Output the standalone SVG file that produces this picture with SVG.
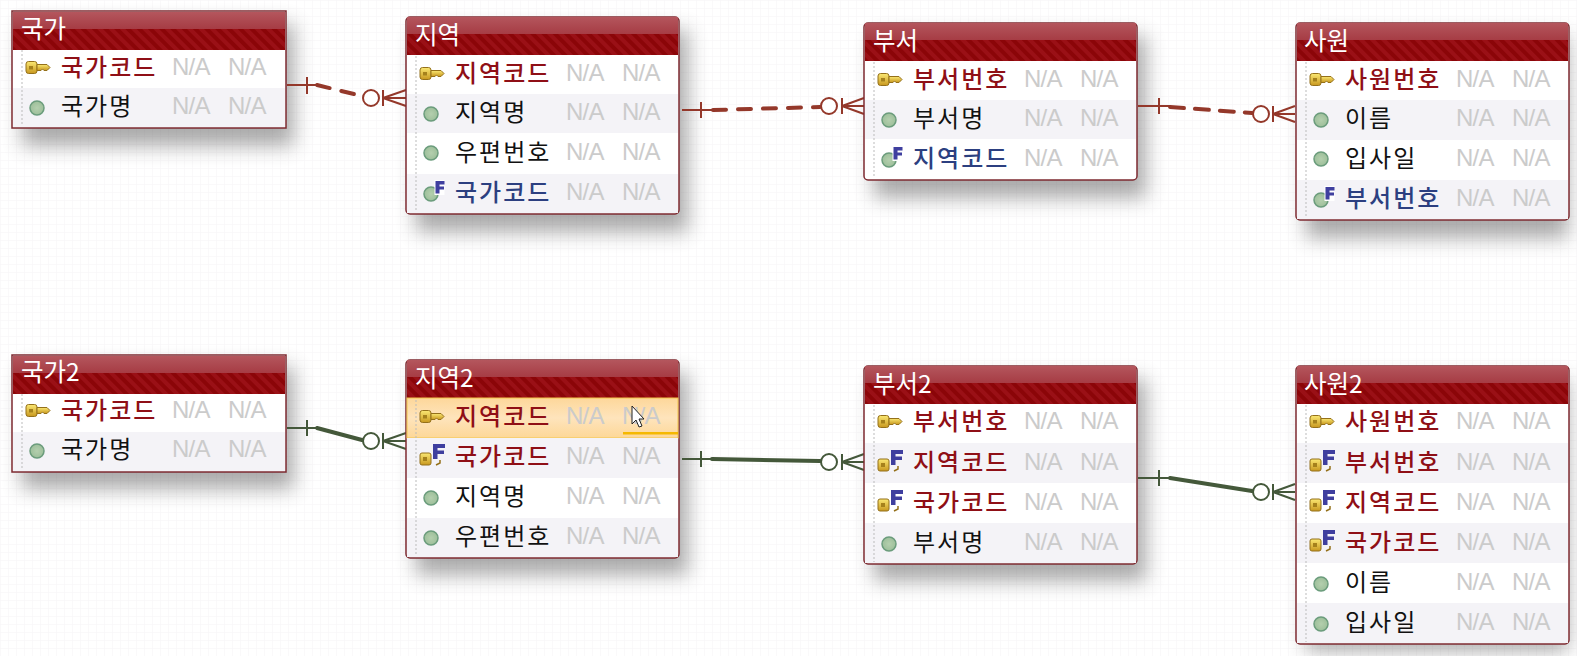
<svg xmlns="http://www.w3.org/2000/svg" width="1577" height="656" viewBox="0 0 1577 656">
<style>
.box{fill:#fff;stroke:#7d2a30;stroke-width:1.5}
.alt{fill:#f4f3f7}
.ttl{font:24.500px "Noto Sans CJK KR","Liberation Sans",sans-serif;fill:#fff;transform:translateY(.5px)}
.t{font:24px "Noto Sans CJK KR",sans-serif;letter-spacing:2px}
.pk{fill:#8f0f16;font-weight:500}
.fk{fill:#2c3f80;font-weight:500}
.at{fill:#111}
.na{font:24px "Liberation Sans",sans-serif;fill:#cbcbcb;letter-spacing:-.8px;transform:translate(-1px,-1px)}
.dot{stroke:#bbb;stroke-width:1;stroke-dasharray:2 2;fill:none}
.rel{fill:none;stroke:#94382a;stroke-width:2}
.relg{fill:none;stroke:#44583a;stroke-width:2}
.thick{stroke-width:4;stroke-linecap:round}
.dash{stroke-dasharray:13 12}
.c{fill:#fff}
</style>
<defs>
<pattern id="grid" width="8" height="8" patternUnits="userSpaceOnUse"><path d="M8 0H0V8" fill="none" stroke="#f5f4f6" stroke-width="1"/></pattern>
<pattern id="st" width="8" height="8" patternUnits="userSpaceOnUse" patternTransform="rotate(-45)"><rect width="8" height="8" fill="#8b0508"/><rect width="4" height="8" fill="#9a1016"/></pattern>
<linearGradient id="gloss" x1="0" y1="0" x2="0" y2="1"><stop offset="0" stop-color="#b4565d"/><stop offset="1" stop-color="#a63c44"/></linearGradient>
<linearGradient id="hlg" x1="0" y1="0" x2="0" y2="1"><stop offset="0" stop-color="#fdd79a"/><stop offset=".5" stop-color="#fee4bc"/><stop offset="1" stop-color="#fdd797"/></linearGradient>
<radialGradient id="dotg"><stop offset="0" stop-color="#b4cfae"/><stop offset="1" stop-color="#9dbf9a"/></radialGradient>
<filter id="sh" x="-20%" y="-25%" width="140%" height="160%"><feGaussianBlur stdDeviation="10"/></filter>
<linearGradient id="keyg" x1="0" y1="0" x2="0" y2="1"><stop offset="0" stop-color="#fbe873"/><stop offset="1" stop-color="#c8981f"/></linearGradient>
<symbol id="key" width="26" height="16" viewBox="0 0 26 16" overflow="visible">
<rect x="1" y="1.500" width="11" height="12" rx="2.500" fill="url(#keyg)" stroke="#94701a"/><rect x="4" y="6" width="4" height="3.500" fill="#a5811c"/><path d="M12 4.500H22L25 7.500L22 10.500H19L17.500 9L16 10.500H12Z" fill="url(#keyg)" stroke="#94701a"/></symbol>
<symbol id="col" width="16" height="16" viewBox="0 0 16 16"><circle cx="8" cy="8" r="7" fill="url(#dotg)" stroke="#6b9c7c" stroke-width="1.500"/></symbol>
<symbol id="fcol" width="26" height="24" viewBox="0 0 26 24"><circle cx="8" cy="15" r="7" fill="url(#dotg)" stroke="#6b9c7c" stroke-width="1.500"/><path d="M11.500 1H21.500V16H11.500Z" fill="#fff"/><path d="M12.500 2H21.500V5.500H16.500V7.500H21V10.500H16.500V14.500H12.500Z" fill="#3f3f9f"/></symbol>
<symbol id="fkey" width="28" height="24" viewBox="0 0 28 24"><rect x="1" y="10" width="11" height="12" rx="2" fill="url(#keyg)" stroke="#94701a"/><rect x="4" y="14" width="4" height="4" fill="#a5811c"/><path d="M14 1H26V5H18.500V7.500H25V11H18.500V16H14Z" fill="#3f3f9f"/><path d="M21 17V20L17 22" stroke="#94701a" stroke-width="1.500" fill="none"/></symbol>
<symbol id="hdr" width="274" height="38" viewBox="0 0 274 38" preserveAspectRatio="none"><rect width="274" height="38" fill="url(#st)"/><rect width="274" height="17" fill="url(#gloss)"/></symbol>
</defs>
<rect width="1577" height="656" fill="#fff"/>
<rect width="1577" height="656" fill="url(#grid)"/>
<g id="shadows" fill="#444" opacity=".45" filter="url(#sh)">
<rect x="22" y="24" width="272" height="122"/><rect x="416" y="30" width="272" height="202"/><rect x="874" y="36" width="272" height="162"/><rect x="1306" y="36" width="262" height="202"/>
<rect x="22" y="367" width="272" height="122"/><rect x="416" y="373" width="272" height="202"/><rect x="874" y="379" width="272" height="202"/><rect x="1306" y="379" width="262" height="272"/>
</g>
<g id="connectors">
<path class="rel" d="M287 85H317M307 77V94M383 90V106M383 98L406 90M383 98H406M383 98L406 106"/><circle class="rel c" cx="371" cy="98" r="8"/><path class="rel thick dash" d="M317 85L362 96"/>
<path class="rel" d="M682 110H712M701 102V118M842 98V114M842 106L864 98M842 106H864M842 106L864 114"/><circle class="rel c" cx="829" cy="106" r="8"/><path class="rel thick dash" d="M713 110L820 107"/>
<path class="rel" d="M1138 106H1170M1159 98V114M1273 106V122M1273 114L1295 106M1273 114H1295M1273 114L1295 122"/><circle class="rel c" cx="1261" cy="114" r="8"/><path class="rel thick" style="stroke-dasharray:14 11" d="M1170 107L1252 113"/>
<path class="relg" d="M287 428H317M307 420V436M383 433V449M383 441L406 433M383 441H406M383 441L406 449"/><circle class="relg c" cx="371" cy="441" r="8"/><path class="relg thick" d="M317 428L362 440"/>
<path class="relg" d="M682 459H712M701 451V467M842 454V470M842 462L864 454M842 462H864M842 462L864 470"/><circle class="relg c" cx="829" cy="462" r="8"/><path class="relg thick" d="M712 459L820 461"/>
<path class="relg" d="M1138 478H1170M1159 470V486M1273 484V500M1273 492L1295 484M1273 492H1295M1273 492L1295 500"/><circle class="relg c" cx="1261" cy="492" r="8"/><path class="relg thick" d="M1170 478L1252 491"/>
</g>
<g id="t1"><rect class="box" x="12" y="11" width="274" height="117"/><use href="#hdr" x="13" y="12" width="272"/><rect class="alt" x="13" y="88" width="272" height="39"/><path class="dot" d="M22 50V126"/><text class="ttl" x="21" y="37">국가</text>
<use href="#key" x="25" y="60"/><text class="t pk" x="61" y="76">국가코드</text><text class="na" x="173" y="76">N/A</text><text class="na" x="229" y="76">N/A</text>
<use href="#col" x="29" y="100"/><text class="t at" x="61" y="115">국가명</text><text class="na" x="173" y="115">N/A</text><text class="na" x="229" y="115">N/A</text></g>
<g id="t2"><rect class="box" x="406" y="17" width="273" height="197" rx="4"/><use href="#hdr" x="407" y="17" width="271"/><rect class="alt" x="407" y="94" width="271" height="39"/><rect class="alt" x="407" y="174" width="271" height="39"/><path class="dot" d="M416 56V212"/><text class="ttl" x="415" y="43">지역</text>
<use href="#key" x="419" y="66"/><text class="t pk" x="455" y="82">지역코드</text><text class="na" x="567" y="82">N/A</text><text class="na" x="623" y="82">N/A</text>
<use href="#col" x="423" y="106"/><text class="t at" x="455" y="121">지역명</text><text class="na" x="567" y="121">N/A</text><text class="na" x="623" y="121">N/A</text>
<use href="#col" x="423" y="145"/><text class="t at" x="455" y="161">우편번호</text><text class="na" x="567" y="161">N/A</text><text class="na" x="623" y="161">N/A</text>
<use href="#fcol" x="423" y="179"/><text class="t fk" x="455" y="201">국가코드</text><text class="na" x="567" y="201">N/A</text><text class="na" x="623" y="201">N/A</text></g>
<g id="t3"><rect class="box" x="864" y="23" width="273" height="157" rx="4"/><use href="#hdr" x="865" y="23" width="271"/><rect class="alt" x="865" y="100" width="271" height="39"/><path class="dot" d="M874 62V178"/><text class="ttl" x="873" y="49">부서</text>
<use href="#key" x="877" y="72"/><text class="t pk" x="913" y="88">부서번호</text><text class="na" x="1025" y="88">N/A</text><text class="na" x="1081" y="88">N/A</text>
<use href="#col" x="881" y="112"/><text class="t at" x="913" y="127">부서명</text><text class="na" x="1025" y="127">N/A</text><text class="na" x="1081" y="127">N/A</text>
<use href="#fcol" x="881" y="145"/><text class="t fk" x="913" y="167">지역코드</text><text class="na" x="1025" y="167">N/A</text><text class="na" x="1081" y="167">N/A</text></g>
<g id="t4"><rect class="box" x="1296" y="23" width="273" height="197" rx="4"/><use href="#hdr" x="1297" y="23" width="271"/><rect class="alt" x="1297" y="100" width="271" height="40"/><rect class="alt" x="1297" y="180" width="271" height="39"/><path class="dot" d="M1306 62V218"/><text class="ttl" x="1304" y="49">사원</text>
<use href="#key" x="1309" y="72"/><text class="t pk" x="1345" y="88">사원번호</text><text class="na" x="1457" y="88">N/A</text><text class="na" x="1513" y="88">N/A</text>
<use href="#col" x="1313" y="112"/><text class="t at" x="1345" y="127">이름</text><text class="na" x="1457" y="127">N/A</text><text class="na" x="1513" y="127">N/A</text>
<use href="#col" x="1313" y="151"/><text class="t at" x="1345" y="167">입사일</text><text class="na" x="1457" y="167">N/A</text><text class="na" x="1513" y="167">N/A</text>
<use href="#fcol" x="1313" y="185"/><text class="t fk" x="1345" y="207">부서번호</text><text class="na" x="1457" y="207">N/A</text><text class="na" x="1513" y="207">N/A</text></g>
<g id="t5"><rect class="box" x="12" y="355" width="274" height="117"/><use href="#hdr" x="13" y="356" width="272"/><rect class="alt" x="13" y="432" width="272" height="39"/><path class="dot" d="M22 394V470"/><text class="ttl" x="21" y="380">국가2</text>
<use href="#key" x="25" y="403"/><text class="t pk" x="61" y="419">국가코드</text><text class="na" x="173" y="419">N/A</text><text class="na" x="229" y="419">N/A</text>
<use href="#col" x="29" y="443"/><text class="t at" x="61" y="458">국가명</text><text class="na" x="173" y="458">N/A</text><text class="na" x="229" y="458">N/A</text></g>
<g id="t6"><rect class="box" x="406" y="360" width="273" height="198" rx="4"/><use href="#hdr" x="407" y="360" width="271"/><rect x="407" y="398" width="271" height="40" fill="url(#hlg)" stroke="#f2c64a"/><rect x="623" y="432" width="55" height="2.500" fill="#f5b800"/><rect class="alt" x="407" y="438" width="271" height="40"/><rect class="alt" x="407" y="518" width="271" height="39"/><path class="dot" d="M416 400V556"/><text class="ttl" x="415" y="386">지역2</text>
<use href="#key" x="419" y="409"/><text class="t pk" x="455" y="425">지역코드</text><text class="na" x="567" y="425">N/A</text><text class="na" x="623" y="425">N/A</text>
<use href="#fkey" x="419" y="443"/><text class="t pk" x="455" y="465">국가코드</text><text class="na" x="567" y="465">N/A</text><text class="na" x="623" y="465">N/A</text>
<use href="#col" x="423" y="490"/><text class="t at" x="455" y="505">지역명</text><text class="na" x="567" y="505">N/A</text><text class="na" x="623" y="505">N/A</text>
<use href="#col" x="423" y="530"/><text class="t at" x="455" y="545">우편번호</text><text class="na" x="567" y="545">N/A</text><text class="na" x="623" y="545">N/A</text>
<path d="M632 406V424L636 420L639 427L642 426L639 419L644 419Z" fill="#fff" stroke="#222"/></g>
<g id="t7"><rect class="box" x="864" y="366" width="273" height="198" rx="4"/><use href="#hdr" x="865" y="366" width="271"/><rect class="alt" x="865" y="443" width="271" height="40"/><rect class="alt" x="865" y="523" width="271" height="40"/><path class="dot" d="M874 405V562"/><text class="ttl" x="873" y="392">부서2</text>
<use href="#key" x="877" y="414"/><text class="t pk" x="913" y="430">부서번호</text><text class="na" x="1025" y="430">N/A</text><text class="na" x="1081" y="430">N/A</text>
<use href="#fkey" x="877" y="449"/><text class="t pk" x="913" y="471">지역코드</text><text class="na" x="1025" y="471">N/A</text><text class="na" x="1081" y="471">N/A</text>
<use href="#fkey" x="877" y="489"/><text class="t pk" x="913" y="511">국가코드</text><text class="na" x="1025" y="511">N/A</text><text class="na" x="1081" y="511">N/A</text>
<use href="#col" x="881" y="536"/><text class="t at" x="913" y="551">부서명</text><text class="na" x="1025" y="551">N/A</text><text class="na" x="1081" y="551">N/A</text></g>
<g id="t8"><rect class="box" x="1296" y="366" width="273" height="278" rx="4"/><use href="#hdr" x="1297" y="366" width="271"/><rect class="alt" x="1297" y="443" width="271" height="40"/><rect class="alt" x="1297" y="523" width="271" height="40"/><rect class="alt" x="1297" y="603" width="271" height="40"/><path class="dot" d="M1306 405V642"/><text class="ttl" x="1304" y="392">사원2</text>
<use href="#key" x="1309" y="414"/><text class="t pk" x="1345" y="430">사원번호</text><text class="na" x="1457" y="430">N/A</text><text class="na" x="1513" y="430">N/A</text>
<use href="#fkey" x="1309" y="449"/><text class="t pk" x="1345" y="471">부서번호</text><text class="na" x="1457" y="471">N/A</text><text class="na" x="1513" y="471">N/A</text>
<use href="#fkey" x="1309" y="489"/><text class="t pk" x="1345" y="511">지역코드</text><text class="na" x="1457" y="511">N/A</text><text class="na" x="1513" y="511">N/A</text>
<use href="#fkey" x="1309" y="529"/><text class="t pk" x="1345" y="551">국가코드</text><text class="na" x="1457" y="551">N/A</text><text class="na" x="1513" y="551">N/A</text>
<use href="#col" x="1313" y="576"/><text class="t at" x="1345" y="591">이름</text><text class="na" x="1457" y="591">N/A</text><text class="na" x="1513" y="591">N/A</text>
<use href="#col" x="1313" y="616"/><text class="t at" x="1345" y="631">입사일</text><text class="na" x="1457" y="631">N/A</text><text class="na" x="1513" y="631">N/A</text></g>
</svg>
